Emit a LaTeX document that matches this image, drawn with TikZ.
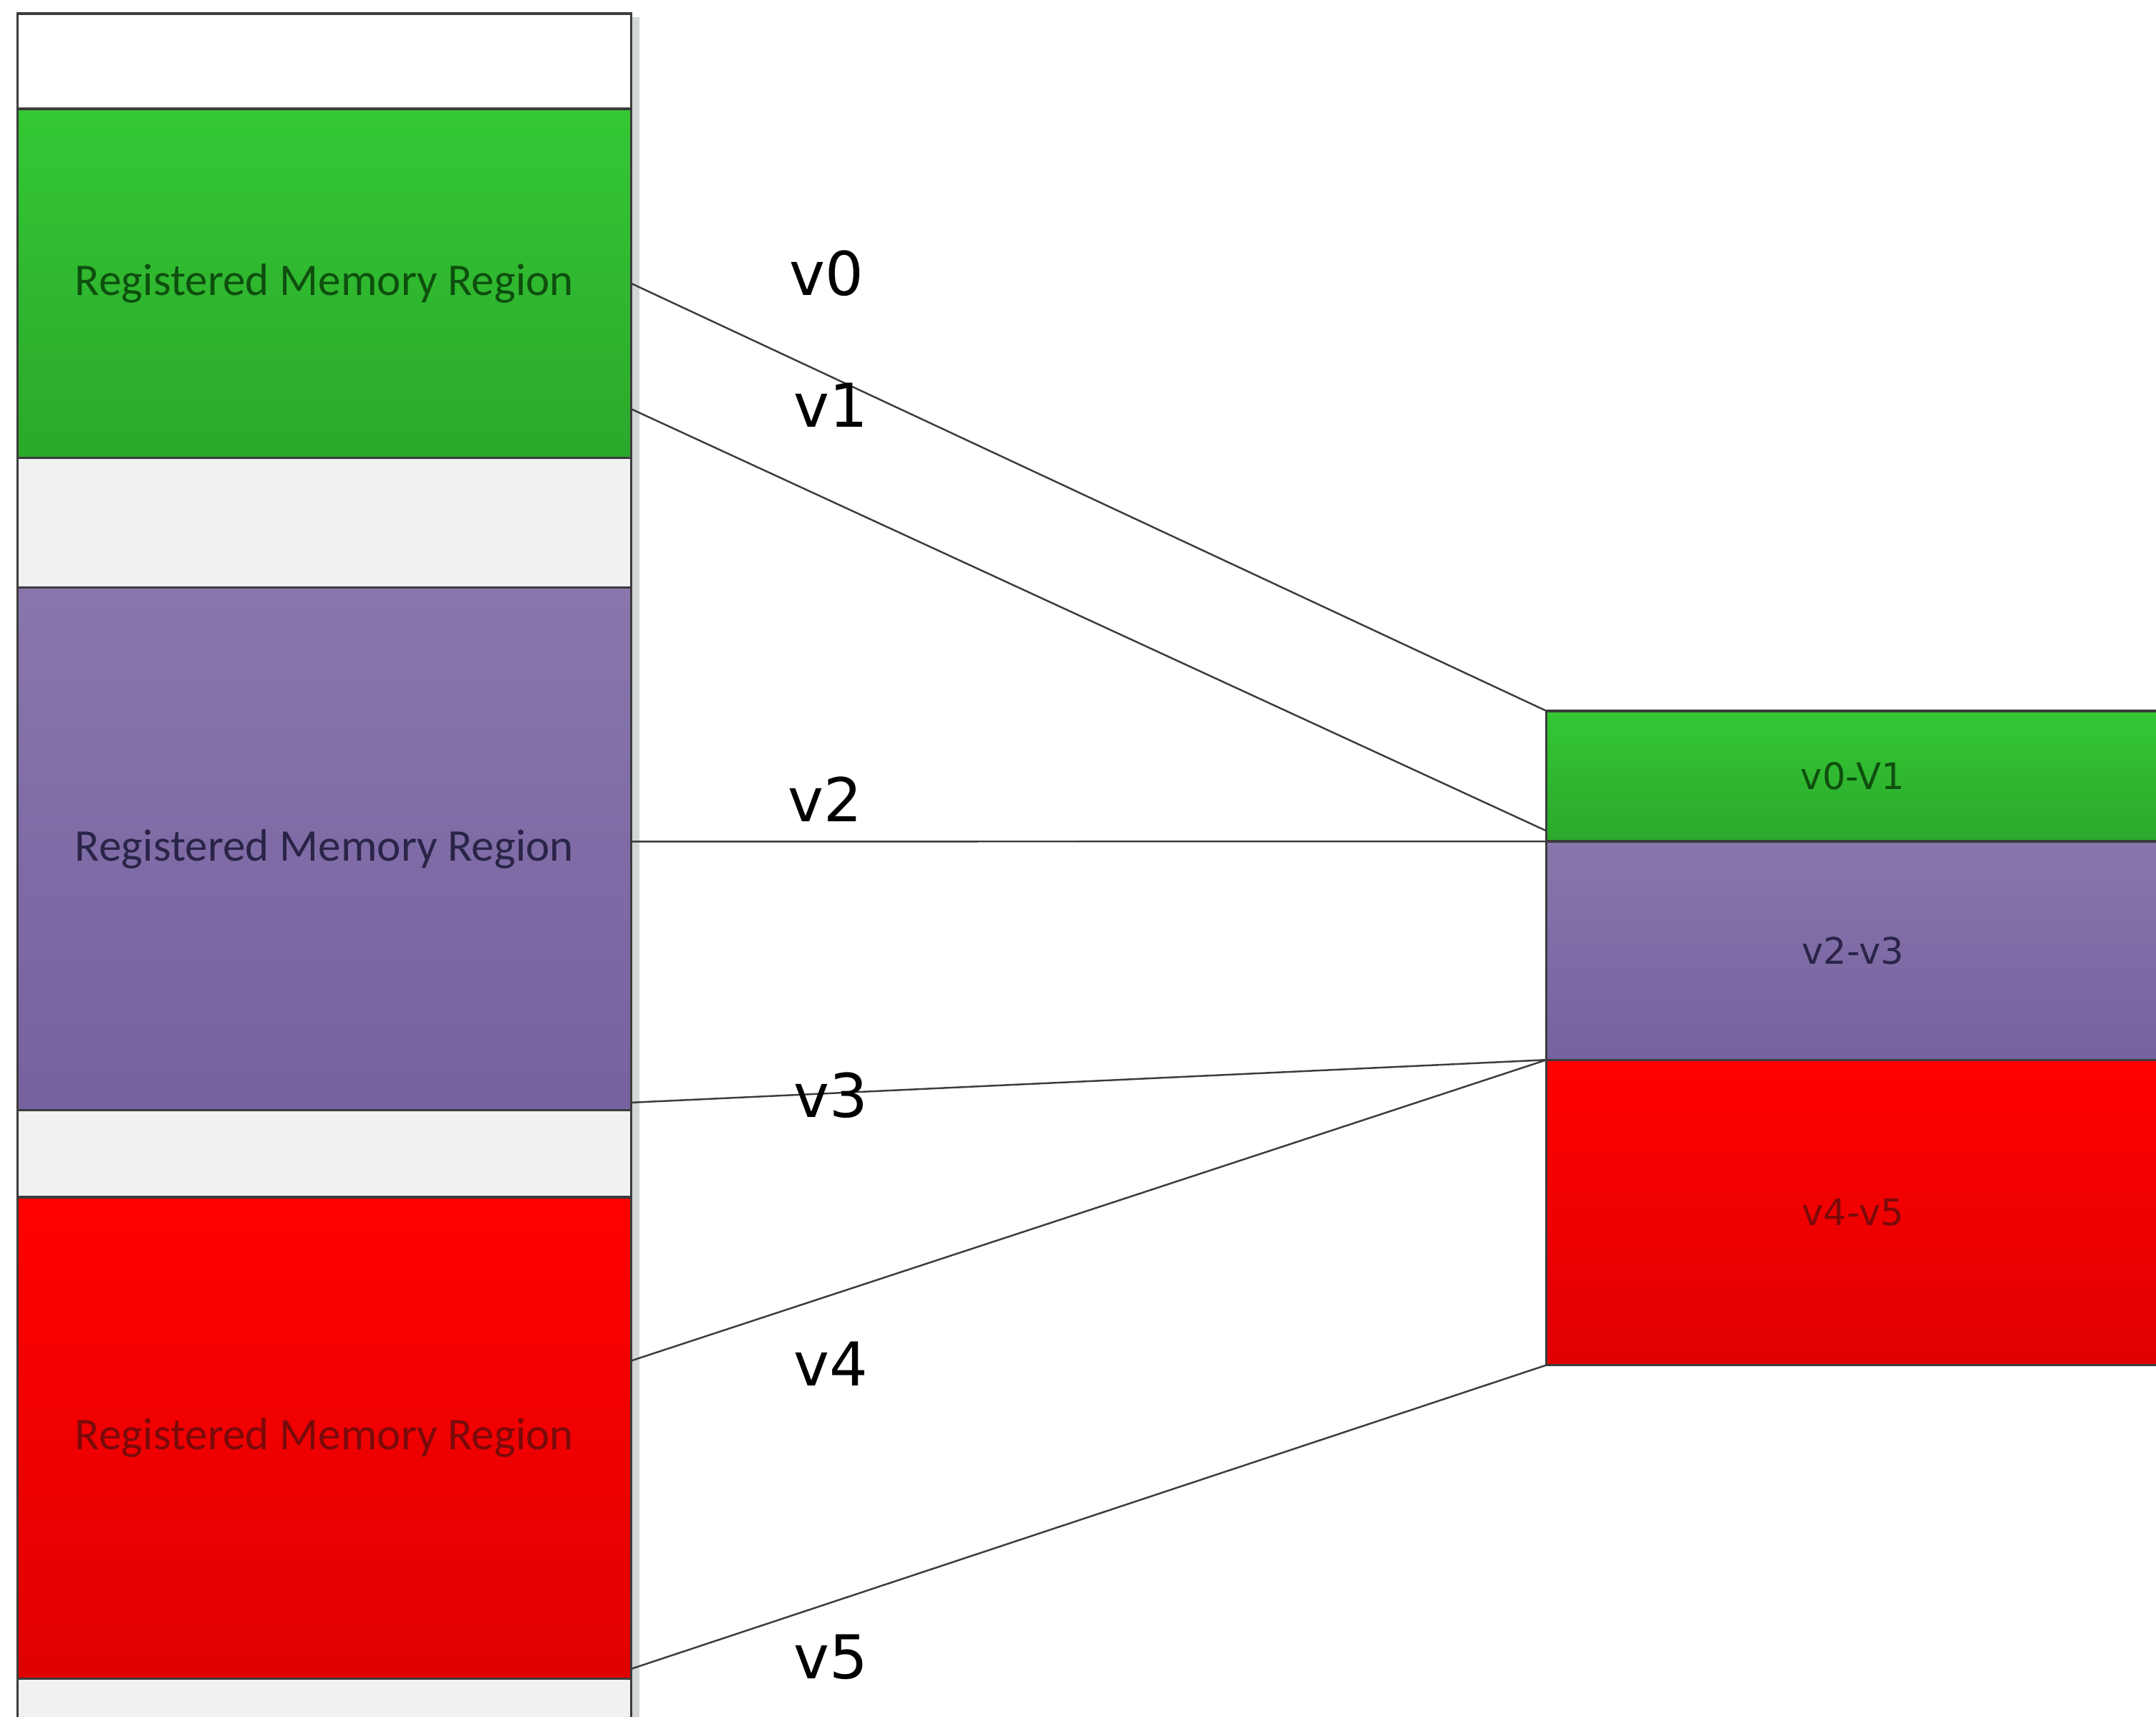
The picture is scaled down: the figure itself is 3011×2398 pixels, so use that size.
\documentclass[tikz,border=0pt]{standalone}
\usepackage{fontspec}
\newfontfamily\regfont{Carlito}
\newfontfamily\vfont{DejaVu Sans}
\usetikzlibrary{positioning, calc}

\definecolor{boxline}{HTML}{3C3C3C}
\definecolor{gapgray}{HTML}{F0F2F2}
\definecolor{shadowgray}{HTML}{D4D8D4}
\definecolor{greentop}{HTML}{34C834}
\definecolor{greenbot}{HTML}{2BA82B}
\definecolor{purpletop}{HTML}{8876AC}
\definecolor{purplebot}{HTML}{7662A0}
\definecolor{redtop}{HTML}{FF0000}
\definecolor{redbot}{HTML}{E00000}
\definecolor{greentext}{HTML}{0E4F0E}
\definecolor{purpletext}{HTML}{2A2448}
\definecolor{redtext}{HTML}{7A0A0A}

\begin{document}
\begin{tikzpicture}[x=0.01cm, y=-0.01cm,
    block/.style={draw=boxline, line width=0.9pt, inner sep=0pt, outer sep=0pt, minimum width=8.56cm},
    region/.style={block, font=\regfont\fontsize{18}{21}\selectfont},
    gap/.style={block, fill=gapgray},
    slice/.style={draw=boxline, line width=0.9pt, inner sep=0pt, outer sep=0pt, minimum width=8.55cm, font=\vfont\fontsize{14.5}{17}\selectfont},
    link/.style={draw=boxline, line width=0.7pt},
    vlabel/.style={font=\vfont\fontsize{24}{28}\selectfont, text=black}]
    \clip (0,0) rectangle (3011,2398);
    \fill[white] (0,0) rectangle (3011,2398);

    % shadow of the memory column
    \fill[shadowgray] (883,24) rectangle (893,2398);

    % memory column
    \node[block, fill=white, minimum height=1.33cm] (top) at (453,85.5) {};
    \node[region, minimum height=4.87cm, top color=greentop, bottom color=greenbot, text=greentext, below=0pt of top] (regA) {Registered Memory Region};
    \node[gap, minimum height=1.81cm, below=0pt of regA] (gapA) {};
    \node[region, minimum height=7.30cm, top color=purpletop, bottom color=purplebot, text=purpletext, below=0pt of gapA] (regB) {Registered Memory Region};
    \node[gap, minimum height=1.21cm, below=0pt of regB] (gapB) {};
    \node[region, minimum height=6.72cm, top color=redtop, bottom color=redbot, text=redtext, below=0pt of gapB] (regC) {Registered Memory Region};
    \node[gap, minimum height=1.2cm, below=0pt of regC] (gapC) {};

    % gathered buffer
    \node[slice, minimum height=1.82cm, top color=greentop, bottom color=greenbot, text=greentext] (vA) at (2587.5,1084) {v0-V1};
    \node[slice, minimum height=3.05cm, top color=purpletop, bottom color=purplebot, text=purpletext, below=0pt of vA] (vB) {v2-v3};
    \node[slice, minimum height=4.26cm, top color=redtop, bottom color=redbot, text=redtext, below=0pt of vB] (vC) {v4-v5};

    % vectors
    \draw[link] (regA.east) -- (vA.north west);
    \draw[link] ($(regA.north east)!0.86!(regA.south east)$) -- ($(vA.north west)!0.92!(vA.south west)$);
    \draw[link] ($(regB.north east)!0.486!(regB.south east)$) -- (vB.north west);
    \draw[link] ($(regB.north east)!0.985!(regB.south east)$) -- (vC.north west);
    \draw[link] ($(regC.north east)!0.34!(regC.south east)$) -- (vC.north west);
    \draw[link] ($(regC.north east)!0.98!(regC.south east)$) -- (vC.south west);

    \foreach \n/\x/\y in {0/1154/382, 1/1160/566, 2/1152/1116, 3/1160/1530, 4/1160/1905, 5/1160/2314} {
        \node[vlabel] (lv\n) at (\x,\y) {v\n};
    }
\end{tikzpicture}
\end{document}
